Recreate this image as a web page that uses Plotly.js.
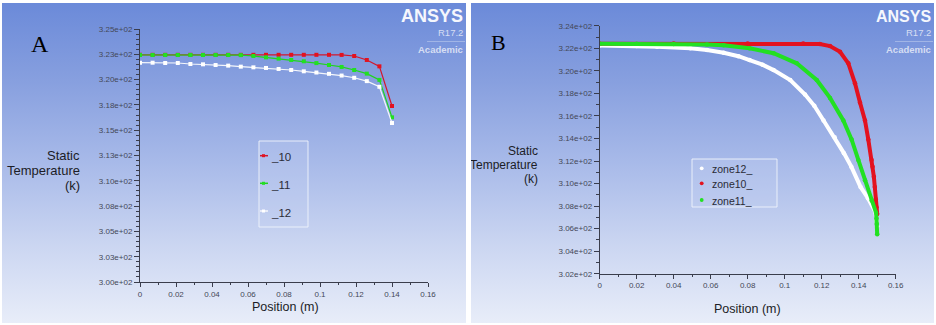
<!DOCTYPE html>
<html><head><meta charset="utf-8">
<script src="https://cdn.plot.ly/plotly-3.0.1.min.js"></script>
<style>
html,body{margin:0;padding:0;background:#fff;width:936px;height:325px;overflow:hidden}
.panel{position:absolute;top:3px;height:320px;background:linear-gradient(to bottom,#6b8ad9 0%,#88a0df 25%,#a8bae9 50%,#cad5f1 75%,#e8edf9 100%)}
#A{left:2px;width:464px}
#B{left:471px;width:463px}
</style></head><body>
<div id="A" class="panel"></div><div id="B" class="panel"></div>
<script>
// ---------- Panel A data ----------
const posA = [0,0.007,0.014,0.021,0.028,0.035,0.042,0.049,0.056,0.063,0.07,0.077,0.084,0.091,0.098,0.105,0.112,0.119,0.126,0.133,0.14];
const tempA10 = [322.45,322.45,322.45,322.45,322.45,322.45,322.45,322.45,322.45,322.45,322.45,322.45,322.45,322.45,322.45,322.45,322.44,322.33,321.94,321.31,317.39];
const tempA11 = [322.43,322.43,322.43,322.43,322.43,322.43,322.43,322.43,322.42,322.33,322.2,322.07,321.94,321.81,321.63,321.44,321.25,320.95,320.59,319.97,316.27];
const tempA12 = [321.67,321.67,321.64,321.64,321.54,321.51,321.44,321.38,321.28,321.21,321.15,321.05,320.95,320.82,320.7,320.57,320.4,320.18,319.85,319.29,315.71];
const namesA = ["_10","_11","_12"];
const yTickValsA = [300,302.5,305,307.5,310,312.5,315,317.5,320,322.5,325];
const yTickTextA = ["3.00e+02","3.03e+02","3.05e+02","3.08e+02","3.10e+02","3.13e+02","3.15e+02","3.18e+02","3.20e+02","3.23e+02","3.25e+02"];

// ---------- Panel B data ----------
const posB12 = [0,0.02,0.031,0.049,0.058,0.067,0.075,0.081,0.088,0.094,0.103,0.111,0.116,0.121,0.127,0.132,0.136,0.141,0.145,0.149,0.1495,0.15];
const tempB12 = [322.25,322.2,322.14,322.0,321.85,321.61,321.3,320.96,320.55,320.07,319.19,317.9,316.9,315.6,314.1,312.7,311.5,309.7,308.7,307.5,306.8,306.2];
const posB10 = [0,0.04,0.08,0.11,0.119,0.1245,0.1299,0.1344,0.138,0.1407,0.1434,0.1452,0.147,0.1475,0.1482,0.1487,0.1492,0.1496,0.15];
const tempB10 = [322.4,322.42,322.42,322.42,322.38,322.2,321.7,320.67,318.9,317.2,315.6,313.9,312.1,311.5,310.6,309.7,308.6,307.9,307.3];
const posB11 = [0,0.02,0.04,0.058,0.067,0.081,0.094,0.1065,0.1173,0.1245,0.1317,0.1362,0.1398,0.1434,0.147,0.1494,0.1496,0.1498,0.15];
const tempB11 = [322.4,322.4,322.38,322.35,322.27,322.0,321.56,320.67,319.19,317.6,315.6,313.9,312.1,310.3,308.5,307.4,306.9,306.4,305.5];
const namesB = ["zone12_","zone10_","zone11_"];
const yTickValsB = [302,304,306,308,310,312,314,316,318,320,322,324];
const yTickTextB = ["3.02e+02","3.04e+02","3.06e+02","3.08e+02","3.10e+02","3.12e+02","3.14e+02","3.16e+02","3.18e+02","3.20e+02","3.22e+02","3.24e+02"];

const RED = "#e3121f", GREEN = "#22e022", WHITE = "#ffffff";
const AX = "#3a3d4c";
const TICKFONT = {family:"Liberation Sans, Arial, sans-serif", size:8, color:"#444858"};
const LEGBG = "rgba(200,212,242,0.25)", LEGBORDER = "rgba(240,244,252,0.9)";

function xaxisCfg(dom){
  return {domain:dom, range:[0,0.16], tickmode:"linear", tick0:0, dtick:0.02,
    showline:true, linecolor:AX, linewidth:1, ticks:"outside", ticklen:4, tickcolor:AX,
    minor:{tickmode:"linear", tick0:0, dtick:0.01, ticks:"outside", ticklen:2, tickcolor:AX},
    showgrid:false, zeroline:false, tickfont:TICKFONT, fixedrange:true};
}
function yaxisCfg(dom, rng, vals, txt, mdt){
  return {domain:dom, range:rng, tickmode:"array", tickvals:vals, ticktext:txt,
    showline:true, linecolor:AX, linewidth:1, ticks:"outside", ticklen:5, tickcolor:AX,
    minor:{tickmode:"linear", tick0:rng[0], dtick:mdt, ticks:"outside", ticklen:3, tickcolor:AX},
    showgrid:false, zeroline:false, tickfont:TICKFONT, fixedrange:true};
}
function P(W,H){ return {x:v=>v/W, y:v=>1-v/H}; }
function logo(W,H,xr,sizeBig){
  const p = P(W,H);
  return {
    ann:[
      {text:"<b>ANSYS</b>", x:p.x(xr), y:p.y(13), xref:"paper", yref:"paper", xanchor:"right", yanchor:"middle", showarrow:false,
       borderpad:0, font:{family:"Liberation Sans Narrow, Arial Narrow, sans-serif", size:sizeBig, color:"#f5f7fd"}},
      {text:"R17.2", x:p.x(xr), y:p.y(29.5), xref:"paper", yref:"paper", xanchor:"right", yanchor:"middle", showarrow:false,
       borderpad:0, font:{family:"Liberation Sans, Arial, sans-serif", size:9.5, color:"#d6def3"}},
      {text:"<b>Academic</b>", x:p.x(xr), y:p.y(47), xref:"paper", yref:"paper", xanchor:"right", yanchor:"middle", showarrow:false,
       borderpad:0, font:{family:"Liberation Sans Narrow, Arial Narrow, sans-serif", size:9.5, color:"#d6def3"}}
    ],
    shp:[{type:"line", xref:"paper", yref:"paper", x0:p.x(xr-37), x1:p.x(xr+1), y0:p.y(38.5), y1:p.y(38.5),
      line:{color:"rgba(255,255,255,0.3)", width:1}}]
  };
}
function ylab(W,H,xr, ys, size){
  const p = P(W,H);
  const t = ["Static","Temperature","(k)"];
  return t.map((s,i)=>({text:s, x:p.x(xr), y:p.y(ys[i]), xref:"paper", yref:"paper", xanchor:"right", yanchor:"middle",
    showarrow:false, font:{family:"Liberation Sans, Arial, sans-serif", size:size, color:"#1c1d26"}}));
}

// ---------- Panel A ----------
const HA = 320, WA = 464, pA = P(WA,HA);
const specA = [
  {x:posA, y:tempA10, name:namesA[0], color:RED, lc:"#d2162c"},
  {x:posA, y:tempA11, name:namesA[1], color:GREEN, lc:"#1fd41f"},
  {x:posA, y:tempA12, name:namesA[2], color:WHITE, lc:"#f4f6fb"}
];
const tracesA = specA.map(t=>({type:"scatter", mode:"lines+markers", x:t.x, y:t.y, name:t.name,
  line:{color:t.lc, width:1.2}, marker:{color:t.color, size:4, symbol:"square"}}));

// legend A (drawn in paper space)
const legA_rows = [152.7, 180.3, 208];
const shapesA = [{type:"rect", xref:"paper", yref:"paper", x0:pA.x(257), x1:pA.x(306), y0:pA.y(138), y1:pA.y(224),
  fillcolor:LEGBG, line:{color:LEGBORDER, width:1}, layer:"below"}];
const annA = [];
specA.forEach((t,i)=>{
  const yy = legA_rows[i];
  shapesA.push({type:"line", xref:"paper", yref:"paper", x0:pA.x(258), x1:pA.x(266), y0:pA.y(yy), y1:pA.y(yy), line:{color:t.lc, width:1.5}});
  shapesA.push({type:"rect", xref:"paper", yref:"paper", x0:pA.x(260), x1:pA.x(263), y0:pA.y(yy-1.5), y1:pA.y(yy+1.5), fillcolor:t.color, line:{width:0}});
  annA.push({text:t.name, x:pA.x(266.5), y:pA.y(yy+1.5), xref:"paper", yref:"paper", xanchor:"left", yanchor:"middle", showarrow:false,
    font:{family:"Liberation Sans, Arial, sans-serif", size:11.5, color:"#2a2b36"}});
});
const lgA = logo(WA,HA,462,18);
const layoutA = {
  width:WA, height:HA, margin:{l:0,r:0,t:0,b:0}, paper_bgcolor:"rgba(0,0,0,0)", plot_bgcolor:"rgba(0,0,0,0)",
  xaxis:xaxisCfg([138/WA, 426/WA]),
  yaxis:yaxisCfg([1-279/HA, 1-26/HA],[300,325], yTickValsA, yTickTextA, 0.5),
  showlegend:false,
  annotations:[
    {text:"A", x:pA.x(38), y:pA.y(41), xref:"paper", yref:"paper", xanchor:"center", yanchor:"middle", showarrow:false,
     font:{family:"Liberation Serif, Times New Roman, serif", size:24, color:"#000"}},
    {text:"Position (m)", x:pA.x(283), y:pA.y(304), xref:"paper", yref:"paper", xanchor:"center", yanchor:"middle", showarrow:false,
     font:{family:"Liberation Sans, Arial, sans-serif", size:12.5, color:"#1c1d26"}},
    ...ylab(WA,HA,80, [152,167,182], 13),
    ...annA,
    ...lgA.ann
  ],
  shapes:[...shapesA, ...lgA.shp]
};
Plotly.newPlot("A", tracesA, layoutA, {staticPlot:true, displayModeBar:false});

// ---------- Panel B ----------
const HB = 320, WB = 463, pB = P(WB,HB);
const specB = [
  {x:posB12, y:tempB12, name:namesB[0], color:WHITE},
  {x:posB10, y:tempB10, name:namesB[1], color:RED},
  {x:posB11, y:tempB11, name:namesB[2], color:GREEN}
];
const tracesB = [];
specB.forEach(t=>{
  tracesB.push({type:"scatter", mode:"lines", x:t.x, y:t.y, showlegend:false, hoverinfo:"skip",
    line:{color:t.color, width:4}});
  tracesB.push({type:"scatter", mode:"markers", x:t.x, y:t.y, name:t.name,
    marker:{color:t.color, size:4.5, symbol:"circle"}});
});
const legB_rows = [165.3, 180.3, 197];
const shapesB = [{type:"rect", xref:"paper", yref:"paper", x0:pB.x(221), x1:pB.x(306), y0:pB.y(156), y1:pB.y(204),
  fillcolor:LEGBG, line:{color:LEGBORDER, width:1}, layer:"below"}];
const annB = [];
specB.forEach((t,i)=>{
  const yy = legB_rows[i];
  shapesB.push({type:"circle", xref:"paper", yref:"paper", x0:pB.x(228.8), x1:pB.x(232.6), y0:pB.y(yy-1.9), y1:pB.y(yy+1.9), fillcolor:t.color, line:{width:0}});
  annB.push({text:t.name, x:pB.x(239), y:pB.y(yy+0.5), xref:"paper", yref:"paper", xanchor:"left", yanchor:"middle", showarrow:false,
    font:{family:"Liberation Sans Narrow, Arial Narrow, sans-serif", size:10.5, color:"#2a2b36"}});
});
const lgB = logo(WB,HB,461,16);
const layoutB = {
  width:WB, height:HB, margin:{l:0,r:0,t:0,b:0}, paper_bgcolor:"rgba(0,0,0,0)", plot_bgcolor:"rgba(0,0,0,0)",
  xaxis:xaxisCfg([128.7/WB, 424.7/WB]),
  yaxis:yaxisCfg([1-270.7/HB, 1-22.8/HB],[302,324], yTickValsB, yTickTextB, 1),
  showlegend:false,
  annotations:[
    {text:"B", x:pB.x(27), y:pB.y(39.5), xref:"paper", yref:"paper", xanchor:"center", yanchor:"middle", showarrow:false,
     font:{family:"Liberation Serif, Times New Roman, serif", size:22, color:"#000"}},
    {text:"Position (m)", x:pB.x(276), y:pB.y(306), xref:"paper", yref:"paper", xanchor:"center", yanchor:"middle", showarrow:false,
     font:{family:"Liberation Sans, Arial, sans-serif", size:12.5, color:"#1c1d26"}},
    ...ylab(WB,HB,69, [148,162,176], 12),
    ...annB,
    ...lgB.ann
  ],
  shapes:[...shapesB, ...lgB.shp]
};
Plotly.newPlot("B", tracesB, layoutB, {staticPlot:true, displayModeBar:false});
</script></body></html>
